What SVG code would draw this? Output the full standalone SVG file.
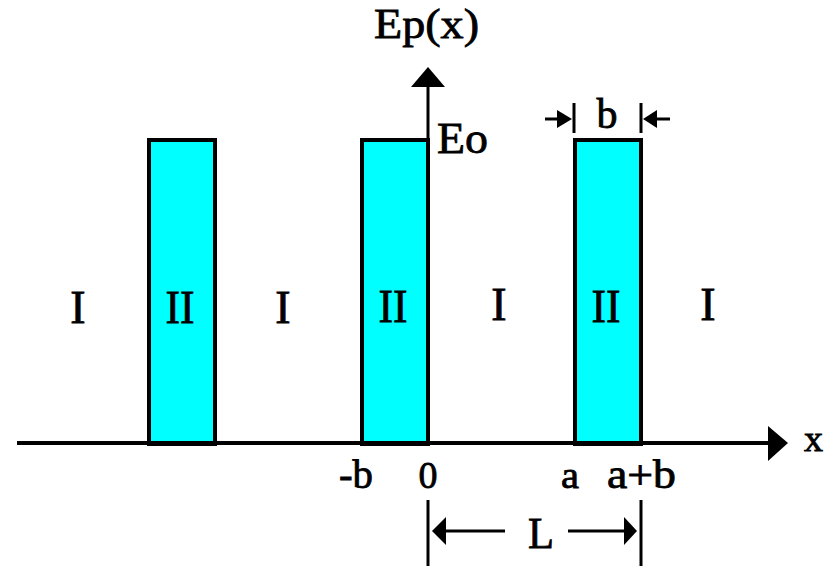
<svg xmlns="http://www.w3.org/2000/svg" width="829" height="566" viewBox="0 0 829 566">
<style>
.bar{fill:#00ffff;stroke:#000;stroke-width:4}
.ln{stroke:#000;fill:none}
.t{font-family:"Liberation Serif","DejaVu Serif",serif;fill:#000;stroke:#000;stroke-width:0.8}
.ah{fill:#000;stroke:none}
</style>
<rect width="829" height="566" fill="#fff"/>
<g id="barrier1"><rect class="bar" x="149" y="140" width="66" height="304"/><text class="t" x="180" y="323" font-size="46" text-anchor="middle" textLength="29" lengthAdjust="spacingAndGlyphs">II</text></g>
<g id="barrier2"><rect class="bar" x="362" y="140" width="66" height="304"/><text class="t" x="393" y="322" font-size="46" text-anchor="middle" textLength="29" lengthAdjust="spacingAndGlyphs">II</text></g>
<g id="barrier3"><rect class="bar" x="575" y="140" width="66" height="304"/><text class="t" x="606" y="322" font-size="46" text-anchor="middle" textLength="29" lengthAdjust="spacingAndGlyphs">II</text></g>
<g id="well1"><text class="t" x="78" y="323" font-size="46" text-anchor="middle">I</text></g>
<g id="well2"><text class="t" x="283" y="323" font-size="46" text-anchor="middle">I</text></g>
<g id="well3"><text class="t" x="499" y="320" font-size="46" text-anchor="middle">I</text></g>
<g id="well4"><text class="t" x="708" y="320" font-size="46" text-anchor="middle">I</text></g>
<g id="connectors">
<line class="ln" x1="17" y1="443" x2="772" y2="443" stroke-width="4"/>
<polygon class="ah" points="768,426 788,443 768,461"/>
<line class="ln" x1="428" y1="444" x2="428" y2="82" stroke-width="3"/>
<polygon class="ah" points="428,67 445,87 411,87"/>
<line class="ln" x1="545" y1="119" x2="562" y2="119" stroke-width="3"/>
<polygon class="ah" points="557,110 572,119 557,128"/>
<line class="ln" x1="574" y1="103" x2="574" y2="133" stroke-width="3"/>
<line class="ln" x1="641" y1="103" x2="641" y2="133" stroke-width="3"/>
<polygon class="ah" points="657,110 643,119 657,128"/>
<line class="ln" x1="652" y1="119" x2="670" y2="119" stroke-width="3"/>
<line class="ln" x1="428" y1="500" x2="428" y2="566" stroke-width="3"/>
<line class="ln" x1="641" y1="500" x2="641" y2="566" stroke-width="3"/>
<polygon class="ah" points="432,531 446,517 446,545"/>
<line class="ln" x1="444" y1="531" x2="505" y2="531" stroke-width="3"/>
<polygon class="ah" points="637,531 624,517 624,545"/>
<line class="ln" x1="568" y1="531" x2="626" y2="531" stroke-width="3"/>
</g>
<g id="labels">
<text class="t" x="374" y="38" font-size="42" textLength="105" lengthAdjust="spacingAndGlyphs">Ep(x)</text>
<text class="t" x="437" y="153" font-size="44" textLength="51" lengthAdjust="spacingAndGlyphs">Eo</text>
<text class="t" x="607" y="128" font-size="42" text-anchor="middle" textLength="21" lengthAdjust="spacingAndGlyphs">b</text>
<text class="t" x="804" y="451" font-size="36" textLength="19" lengthAdjust="spacingAndGlyphs">x</text>
<text class="t" x="339" y="488" font-size="40" textLength="34" lengthAdjust="spacingAndGlyphs">-b</text>
<text class="t" x="428" y="488" font-size="38" text-anchor="middle" textLength="19" lengthAdjust="spacingAndGlyphs">0</text>
<text class="t" x="570" y="488" font-size="38" text-anchor="middle" textLength="18" lengthAdjust="spacingAndGlyphs">a</text>
<text class="t" x="607" y="488" font-size="40" textLength="69" lengthAdjust="spacingAndGlyphs">a+b</text>
<text class="t" x="541" y="548" font-size="44" text-anchor="middle" textLength="26" lengthAdjust="spacingAndGlyphs">L</text>
</g>
</svg>
